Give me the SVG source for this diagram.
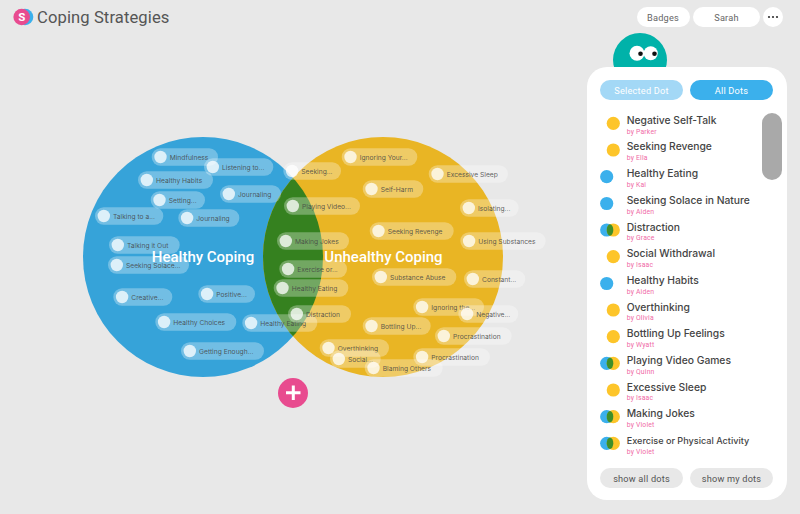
<svg xmlns="http://www.w3.org/2000/svg" width="800" height="514" viewBox="0 0 800 514">
<style>
text{font-family:"Roboto","Liberation Sans",sans-serif}
.chip rect{fill:#fff;fill-opacity:.3;height:17.6px;rx:8.8px;y:-8.8px}
.chip circle{fill:#fff;fill-opacity:.76;r:6.2px;cx:8.8px}
.chip text{font-family:"Inter","Roboto",sans-serif;font-size:6.7px;fill:#444;fill-opacity:.85}
.big{font-size:15px;font-weight:500;fill:#fff;text-anchor:middle}
.t{font-family:"Inter","Roboto",sans-serif;font-size:10.300px;font-weight:500;fill:#444}
.by{font-size:6.800px;fill:#f06aa6;letter-spacing:.2px}
.b{fill:#3bb0ec}.y{fill:#fdc52a}.g{fill:#3f8f2a}
.pill{fill:#fff}
.btn{font-size:9.2px;text-anchor:middle;letter-spacing:.2px}
</style>
<defs>
<clipPath id="lens"><circle cx="203" cy="257" r="120"/></clipPath>
<g id="dual"><circle class="b" cx="-3.3" r="6.6"/><circle class="y" cx="3.3" r="6.6"/><ellipse class="g" cx="0" rx="3.3" ry="5.7"/></g>
</defs>
<rect width="800" height="514" fill="#e8e8e8"/>
<g id="header">
<circle cx="25" cy="17" r="8.3" fill="#3bb0ec"/>
<circle cx="21.7" cy="17" r="8.3" fill="#e84b8f"/>
<text x="21.7" y="21" font-size="11.5" font-weight="700" fill="#fff" text-anchor="middle">S</text>
<text x="37" y="23" font-size="16.6" fill="#555" letter-spacing=".1">Coping Strategies</text>
<rect class="pill" x="637" y="7" width="53" height="20" rx="10"/>
<text class="btn" x="663" y="20.500" fill="#666">Badges</text>
<rect class="pill" x="693" y="7" width="67" height="20" rx="10"/>
<text class="btn" x="726.500" y="20.500" fill="#666">Sarah</text>
<circle class="pill" cx="773" cy="17" r="10"/>
<circle cx="769" cy="17" r="1.1" fill="#333"/><circle cx="773" cy="17" r="1.1" fill="#333"/><circle cx="777" cy="17" r="1.1" fill="#333"/>
</g>
<g id="venn">
<circle cx="203" cy="257" r="120" fill="#36a3d9"/>
<circle cx="383" cy="257" r="120" fill="#e9b524"/>
<circle cx="383" cy="257" r="120" fill="#35811f" clip-path="url(#lens)"/>
<text class="big" x="203" y="262">Healthy Coping</text>
<text class="big" x="383.500" y="262">Unhealthy Coping</text>
</g>
<g id="add">
<circle cx="293" cy="393" r="15" fill="#e84b8f"/>
<path d="M293.300 385.500v14.500M286 392.700h14.500" stroke="#fff" stroke-width="3" fill="none"/>
</g>
<g id="chips">
<g class="chip" id="c1" transform="translate(151.700 157)"><rect width="66.300"/><circle/><text x="18" y="3">Mindfulness</text></g>
<g class="chip" id="c2" transform="translate(204 167)"><rect width="69.300"/><circle/><text x="18" y="3">Listening to...</text></g>
<g class="chip" id="c3" transform="translate(138 180)"><rect width="75"/><circle/><text x="18" y="3">Healthy Habits</text></g>
<g class="chip" id="c4" transform="translate(150.700 200)"><rect width="54.300"/><circle/><text x="18" y="3">Setting...</text></g>
<g class="chip" id="c5" transform="translate(95 216)"><rect width="68.300"/><circle/><text x="18" y="3">Talking to a...</text></g>
<g class="chip" id="c6" transform="translate(220 194)"><rect width="61"/><circle/><text x="18" y="3">Journaling</text></g>
<g class="chip" id="c7" transform="translate(178.300 218)"><rect width="61"/><circle/><text x="18" y="3">Journaling</text></g>
<g class="chip" id="c8" transform="translate(109 245)"><rect width="70.700"/><circle/><text x="18" y="3">Talking it Out</text></g>
<g class="chip" id="c9" transform="translate(108 265)"><rect width="81"/><circle/><text x="18" y="3">Seeking Solace...</text></g>
<g class="chip" id="c10" transform="translate(113.300 297)"><rect width="59"/><circle/><text x="18" y="3">Creative...</text></g>
<g class="chip" id="c11" transform="translate(198.300 294)"><rect width="56.700"/><circle/><text x="18" y="3">Positive...</text></g>
<g class="chip" id="c12" transform="translate(155.300 322)"><rect width="81"/><circle/><text x="18" y="3">Healthy Choices</text></g>
<g class="chip" id="c13" transform="translate(242.300 323)"><rect width="75"/><circle/><text x="18" y="3">Healthy Eating</text></g>
<g class="chip" id="c14" transform="translate(181 351)"><rect width="83"/><circle/><text x="18" y="3">Getting Enough...</text></g>
<g class="chip" id="c15" transform="translate(283.300 171)"><rect width="57.700"/><circle/><text x="18" y="3">Seeking...</text></g>
<g class="chip" id="c16" transform="translate(341.700 157)"><rect width="75.600"/><circle/><text x="18" y="3">Ignoring Your...</text></g>
<g class="chip" id="c17" transform="translate(428.700 174)"><rect width="79.300"/><circle/><text x="18" y="3">Excessive Sleep</text></g>
<g class="chip" id="c18" transform="translate(362.700 189)"><rect width="60.600"/><circle/><text x="18" y="3">Self-Harm</text></g>
<g class="chip" id="c19" transform="translate(284 206)"><rect width="76"/><circle/><text x="18" y="3">Playing Video...</text></g>
<g class="chip" id="c20" transform="translate(460 208)"><rect width="58.700"/><circle/><text x="18" y="3">Isolating...</text></g>
<g class="chip" id="c21" transform="translate(369.700 231)"><rect width="84"/><circle/><text x="18" y="3">Seeking Revenge</text></g>
<g class="chip" id="c22" transform="translate(277 241)"><rect width="72"/><circle/><text x="18" y="3">Making Jokes</text></g>
<g class="chip" id="c23" transform="translate(460.300 241)"><rect width="85.400"/><circle/><text x="18" y="3">Using Substances</text></g>
<g class="chip" id="c24" transform="translate(279.300 269)"><rect width="67.700"/><circle/><text x="18" y="3">Exercise or...</text></g>
<g class="chip" id="c25" transform="translate(273.700 288)"><rect width="74.600"/><circle/><text x="18" y="3">Healthy Eating</text></g>
<g class="chip" id="c26" transform="translate(372 277)"><rect width="84.300"/><circle/><text x="18" y="3">Substance Abuse</text></g>
<g class="chip" id="c27" transform="translate(464 279)"><rect width="61.300"/><circle/><text x="18" y="3">Constant...</text></g>
<g class="chip" id="c28" transform="translate(413.300 307)"><rect width="70.700"/><circle/><text x="18" y="3">Ignoring the...</text></g>
<g class="chip" id="c29" transform="translate(458.300 314)"><rect width="60"/><circle/><text x="18" y="3">Negative...</text></g>
<g class="chip" id="c30" transform="translate(288 314)"><rect width="63"/><circle/><text x="18" y="3">Distraction</text></g>
<g class="chip" id="c31" transform="translate(362.700 326)"><rect width="68"/><circle/><text x="18" y="3">Bottling Up...</text></g>
<g class="chip" id="c32" transform="translate(435 336)"><rect width="76.700"/><circle/><text x="18" y="3">Procrastination</text></g>
<g class="chip" id="c33" transform="translate(319.700 348)"><rect width="69.300"/><circle/><text x="18" y="3">Overthinking</text></g>
<g class="chip" id="c34" transform="translate(330 359)"><rect width="50.700"/><circle/><text x="18" y="3">Social...</text></g>
<g class="chip" id="c35" transform="translate(413.300 357)"><rect width="76.700"/><circle/><text x="18" y="3">Procrastination</text></g>
<g class="chip" id="c36" transform="translate(364.700 368)"><rect width="78"/><circle/><text x="18" y="3">Blaming Others</text></g>
</g>
<g id="mascot">
<circle cx="640" cy="60" r="27" fill="#00b2a9"/>
<circle cx="637" cy="53.300" r="7.500" fill="#fff"/>
<circle cx="650.700" cy="53.300" r="7" fill="#fff"/>
<circle cx="640.500" cy="53.700" r="2.300" fill="#111"/>
<circle cx="654.500" cy="53.700" r="2.300" fill="#111"/>
</g>
<g id="panel">
<rect x="587" y="67" width="200" height="433" rx="20" fill="#fff"/>
<rect x="600" y="80" width="83" height="20" rx="10" fill="#a3d8f6"/>
<text class="btn" x="641.500" y="93.500" fill="#fff">Selected Dot</text>
<rect x="690" y="80" width="83" height="20" rx="10" fill="#3bb0ec"/>
<text class="btn" x="731.500" y="93.500" fill="#fff">All Dots</text>
<rect x="762" y="113" width="20" height="67" rx="10" fill="#a9a9a9"/>
<g id="r1"><circle class="y" cx="613.300" cy="123.300" r="6.600"/><text class="t" x="626.700" y="124">Negative Self-Talk</text><text class="by" x="626.700" y="133.500">by Parker</text></g>
<g id="r2"><circle class="y" cx="613.300" cy="150" r="6.600"/><text class="t" x="626.700" y="150.300">Seeking Revenge</text><text class="by" x="626.700" y="160">by Ella</text></g>
<g id="r3"><circle class="b" cx="606.700" cy="176.700" r="6.600"/><text class="t" x="626.700" y="177">Healthy Eating</text><text class="by" x="626.700" y="186.500">by Kai</text></g>
<g id="r4"><circle class="b" cx="606.700" cy="203.500" r="6.600"/><text class="t" x="626.700" y="203.700">Seeking Solace in Nature</text><text class="by" x="626.700" y="213.500">by Aiden</text></g>
<g id="r5"><use href="#dual" x="610" y="230"/><text class="t" x="626.700" y="230.700">Distraction</text><text class="by" x="626.700" y="240">by Grace</text></g>
<g id="r6"><circle class="y" cx="613.300" cy="256.700" r="6.600"/><text class="t" x="626.700" y="257.300">Social Withdrawal</text><text class="by" x="626.700" y="266.700">by Isaac</text></g>
<g id="r7"><circle class="b" cx="606.700" cy="283.500" r="6.600"/><text class="t" x="626.700" y="283.700">Healthy Habits</text><text class="by" x="626.700" y="293.500">by Aiden</text></g>
<g id="r8"><circle class="y" cx="613.300" cy="310" r="6.600"/><text class="t" x="626.700" y="310.700">Overthinking</text><text class="by" x="626.700" y="320">by Olivia</text></g>
<g id="r9"><circle class="y" cx="613.300" cy="336.700" r="6.600"/><text class="t" x="626.700" y="337.300">Bottling Up Feelings</text><text class="by" x="626.700" y="346.700">by Wyatt</text></g>
<g id="r10"><use href="#dual" x="610" y="363.300"/><text class="t" x="626.700" y="364">Playing Video Games</text><text class="by" x="626.700" y="373.500">by Quinn</text></g>
<g id="r11"><circle class="y" cx="613.300" cy="390" r="6.600"/><text class="t" x="626.700" y="390.700">Excessive Sleep</text><text class="by" x="626.700" y="400">by Isaac</text></g>
<g id="r12"><use href="#dual" x="610" y="416.700"/><text class="t" x="626.700" y="417.300">Making Jokes</text><text class="by" x="626.700" y="426.700">by Violet</text></g>
<g id="r13"><use href="#dual" x="610" y="443.300"/><text class="t" x="626.700" y="443.500" style="font-size:9.100px">Exercise or Physical Activity</text><text class="by" x="626.700" y="453.500">by Violet</text></g>
<rect x="600" y="468" width="83" height="20" rx="10" fill="#e8e8e8"/>
<text class="btn" x="641.500" y="481.500" fill="#555">show all dots</text>
<rect x="690" y="468" width="83" height="20" rx="10" fill="#e8e8e8"/>
<text class="btn" x="731.500" y="481.500" fill="#555">show my dots</text>
</g>
</svg>
